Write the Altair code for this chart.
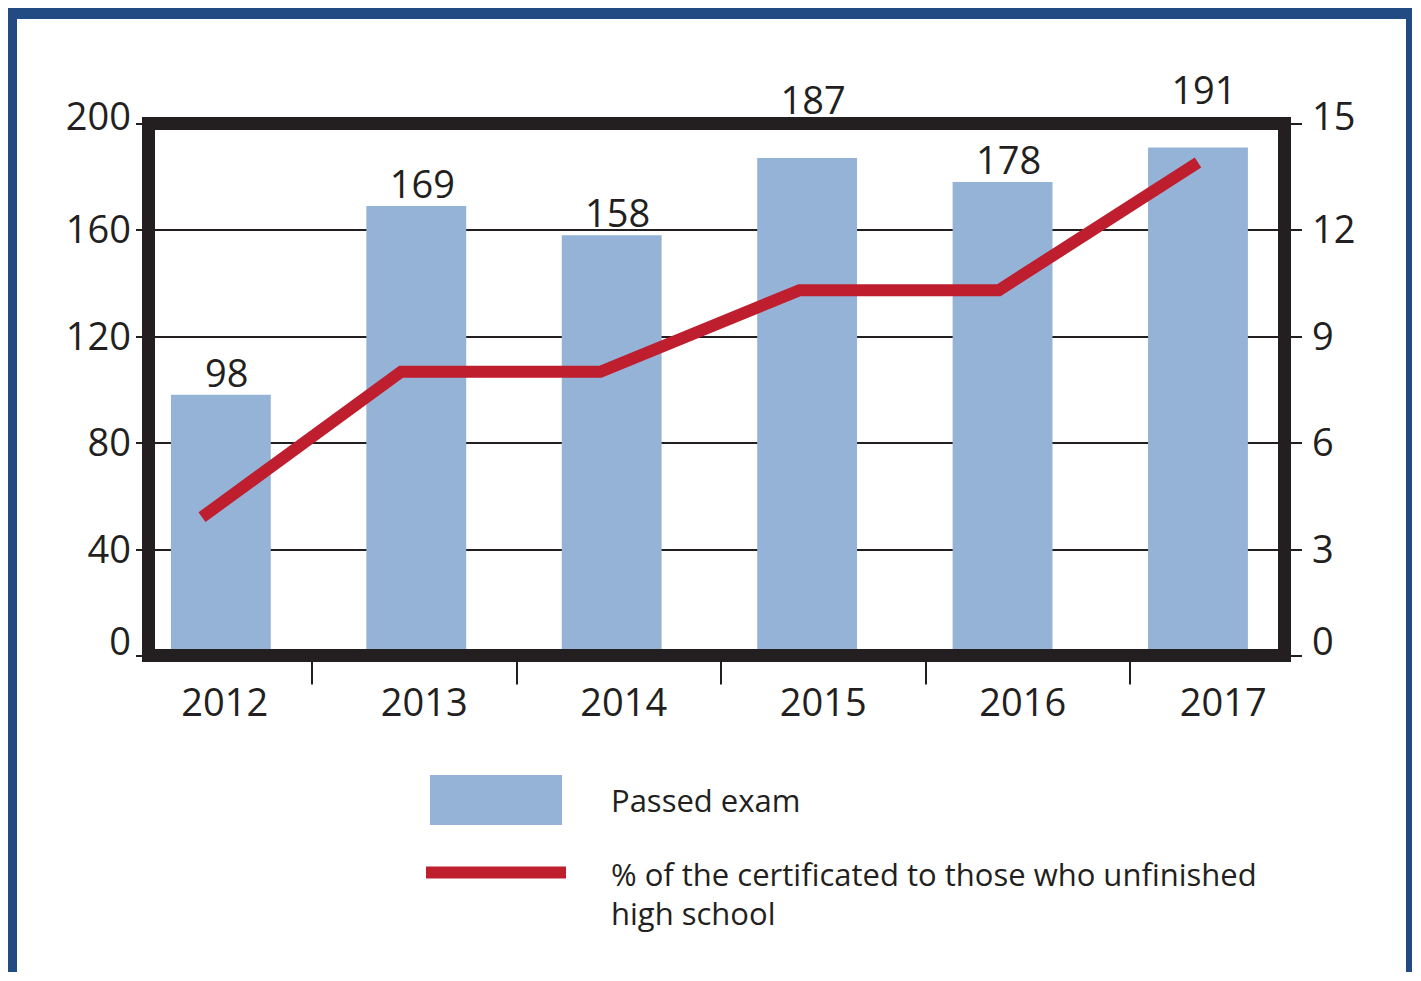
import altair as alt
import pandas as pd

# ---- data ----
years = ["2012", "2013", "2014", "2015", "2016", "2017"]
passed = [98, 169, 158, 187, 178, 191]
pct = [3.9, 8.0, 8.0, 10.3, 10.3, 13.9]
series_names = ["Passed exam", "% of the certificated to those who unfinished high school"]
left_ticks = [0, 40, 80, 120, 160, 200]
right_ticks = [0, 3, 6, 9, 12, 15]

df = pd.DataFrame({
    "year": years,
    "passed": passed,
    "pct": pct,
    "bar_series": series_names[0],
    "line_series": series_names[1],
})
one = pd.DataFrame({"k": [0]})

W, H = 1136, 532
INK = "#231f20"
BAR = "#95b3d7"
RED = "#be1e2d"
BLUE = "#224b83"
FONT = "Open Sans"

xband = alt.Scale(type="band", domain=years, paddingInner=0.489,
                  paddingOuter=0.151, align=0.38)
xline = alt.Scale(type="point", domain=years, range=[53.5, 1049.5], padding=0)

base = alt.Chart(df)

bars = base.mark_bar().encode(
    x=alt.X("year:N", scale=xband, axis=None),
    y=alt.Y("passed:Q", scale=alt.Scale(domain=[0, 200], nice=False),
            axis=alt.Axis(orient="left", values=left_ticks, grid=True,
                          gridColor=INK, gridWidth=2, domain=False,
                          tickSize=13, tickWidth=2, tickColor=INK,
                          labelFont=FONT, labelFontSize=38, labelColor=INK,
                          labelPadding=5,
                          labelOffset={"condition": [
                              {"test": "datum.value == 0", "value": -12},
                              {"test": "datum.value == 200", "value": -5}],
                              "value": 2},
                          title=None)),
    color=alt.Color("bar_series:N",
                    scale=alt.Scale(domain=[series_names[0]], range=[BAR]),
                    legend=alt.Legend(orient="none", legendX=281.5, legendY=613.5,
                                      title=None, padding=0,
                                      symbolType="M-1,-0.424H1V0.333H-1Z",
                                      symbolSize=17424, symbolStrokeWidth=0,
                                      symbolOpacity=1,
                                      labelFont=FONT, labelFontSize=31,
                                      labelColor=INK, labelOffset=49,
                                      labelLimit=0)),
)

line = base.mark_line(strokeWidth=12, strokeCap="butt", strokeJoin="miter").encode(
    x=alt.X("year:N", scale=xline, axis=None),
    y=alt.Y("pct:Q", scale=alt.Scale(domain=[0, 15], nice=False),
            axis=alt.Axis(orient="right", values=right_ticks, grid=False,
                          domain=False, tickSize=17, tickWidth=2, tickColor=INK,
                          labelFont=FONT, labelFontSize=38, labelColor=INK,
                          labelPadding=10,
                          labelOffset={"condition": [
                              {"test": "datum.value == 0", "value": -12},
                              {"test": "datum.value == 15", "value": -5}],
                              "value": 2},
                          title=None)),
    stroke=alt.Stroke("line_series:N",
                      scale=alt.Scale(domain=[series_names[1]], range=[RED]),
                      legend=alt.Legend(orient="none", legendX=271.5, legendY=677,
                                        title=None, padding=0,
                                        symbolType="M-1,-0.057H1",
                                        symbolSize=19600, symbolStrokeWidth=12,
                                        labelFont=FONT, labelFontSize=31,
                                        labelColor=INK, labelOffset=39,
                                        labelLimit=0,
                                        labelExpr="[substring(datum.label, 0, 45), substring(datum.label, 46)]")),
)

labels = base.transform_calculate(
    label_y="datum.passed > 180 ? datum.passed + 16.5 : datum.passed + 3"
).mark_text(font=FONT, fontSize=38, color=INK, baseline="alphabetic", dx=6).encode(
    x=alt.X("year:N", scale=xband, axis=None),
    y=alt.Y("label_y:Q", scale=alt.Scale(domain=[0, 200], nice=False), axis=None),
    text=alt.Text("passed:Q"),
)

frame = alt.Chart(one).mark_rect(filled=False, color=INK, strokeWidth=13).encode(
    x=alt.value(0), x2=alt.value("width"), y=alt.value(0), y2=alt.value("height")
)

xaxis_layer = base.mark_point(opacity=0).encode(
    x=alt.X("year:N",
            scale=alt.Scale(type="band", domain=years, range=[-41, 1186],
                            paddingInner=0, paddingOuter=0),
            axis=alt.Axis(orient="bottom", domain=False, grid=False,
                          bandPosition=0, tickExtra=False,
                          tickSize=28.5, tickWidth=2, tickColor=INK,
                          tickOpacity={"condition": {"test": "datum.value == '2012'", "value": 0},
                                       "value": 1},
                          labelFont=FONT, labelFontSize=38, labelColor=INK,
                          labelPadding=1, labelAngle=0,
                          labelOffset={"condition": [
                              {"test": "datum.value == '2012'", "value": 15},
                              {"test": "datum.value == '2013'", "value": 10},
                              {"test": "datum.value == '2014'", "value": 5},
                              {"test": "datum.value == '2016'", "value": -5},
                              {"test": "datum.value == '2017'", "value": -9}],
                              "value": 0},
                          title=None)),
)

left_strip = alt.Chart(one).mark_rect(color=BLUE).encode(
    x=alt.value(-140.5), x2=alt.value(-131.5), y=alt.value(-115.5), y2=alt.value(849.5))
top_strip = alt.Chart(one).mark_rect(color=BLUE).encode(
    x=alt.value(-140.5), x2=alt.value(1263.5), y=alt.value(-115.5), y2=alt.value(-104.5))
right_strip = alt.Chart(one).mark_rect(color=BLUE).encode(
    x=alt.value(1257.5), x2=alt.value(1263.5), y=alt.value(-115.5), y2=alt.value(849.5))

chart = alt.layer(
    bars, line, labels, frame, xaxis_layer, left_strip, top_strip, right_strip
).resolve_scale(
    x="independent", y="independent"
).properties(
    width=W, height=H, autosize="none",
    padding={"left": 140.5, "top": 115.5, "right": 127.5, "bottom": 316.5},
    background="white",
).configure_view(
    strokeWidth=0
).configure(
    font=FONT,
    style={"guide-label": {"lineHeight": 39}},
)

chart.save("out.html", embed_options={"renderer": "svg", "actions": False})
